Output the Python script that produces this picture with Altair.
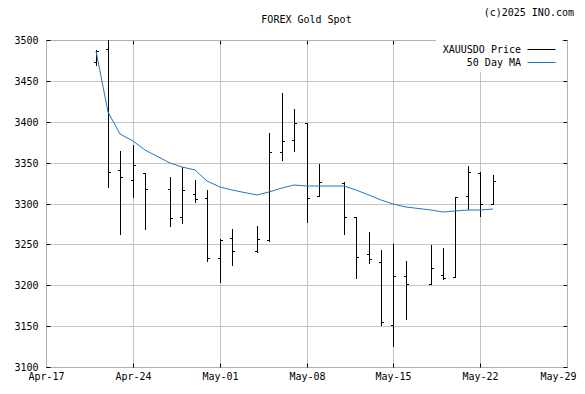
import altair as alt
import pandas as pd

# ---------------- data ----------------
dates = [
    "2025-04-21", "2025-04-22", "2025-04-23", "2025-04-24", "2025-04-25",
    "2025-04-27", "2025-04-28", "2025-04-29", "2025-04-30", "2025-05-01", "2025-05-02",
    "2025-05-04", "2025-05-05", "2025-05-06", "2025-05-07", "2025-05-08", "2025-05-09",
    "2025-05-11", "2025-05-12", "2025-05-13", "2025-05-14", "2025-05-15", "2025-05-16",
    "2025-05-18", "2025-05-19", "2025-05-20", "2025-05-21", "2025-05-22", "2025-05-23",
]
opens = [3473, 3489, 3341, 3329, 3337,
         3318, 3283, 3312, 3307, 3233, 3258,
         3242, 3255, 3363, 3378, 3398, 3309,
         3325, 3283, 3238, 3228, 3151, 3211,
         3201, 3212, 3210, 3309, 3337, 3300]
highs = [3488, 3500, 3364, 3371, 3337,
         3333, 3345, 3329, 3317, 3256, 3269,
         3272, 3386, 3435, 3415, 3399, 3348,
         3326, 3283, 3265, 3243, 3251, 3230,
         3249, 3246, 3308, 3346, 3339, 3335]
lows = [3468, 3319, 3261, 3307, 3268,
        3271, 3275, 3301, 3229, 3203, 3224,
        3239, 3253, 3352, 3363, 3276, 3308,
        3262, 3208, 3226, 3150, 3124, 3157,
        3201, 3207, 3209, 3292, 3284, 3300]
closes = [3487, 3338, 3332, 3347, 3318,
          3282, 3316, 3306, 3233, 3255, 3242,
          3256, 3363, 3377, 3398, 3307, 3326,
          3283, 3235, 3232, 3155, 3211, 3201,
          3221, 3209, 3308, 3339, 3300, 3327]
ma_values = [3487, 3412, 3385, 3376, 3365,
             3350, 3345, 3341, 3328, 3320, 3316,
             3310, 3314, 3319, 3323, 3322, 3322,
             3321, 3316, 3311, 3304, 3300, 3296,
             3292, 3289, 3291, 3292, 3292, 3293]

x_tick_dates = ["2025-04-17", "2025-04-24", "2025-05-01", "2025-05-08",
                "2025-05-15", "2025-05-22", "2025-05-29"]
y_ticks = [3100, 3150, 3200, 3250, 3300, 3350, 3400, 3450, 3500]
series_names = ["XAUUSDO Price", "50 Day MA"]
title_text = "FOREX Gold Spot"
credit_text = "(c)2025 INO.com"

FONT = "DejaVu Sans Mono"
GRID = "#c4c4c4"
BORDER = "#b0b0b0"
BLUE = "#1f78c1"
W, H = 521, 327


def dt(s):
    y, m, d = map(int, s.split("-"))
    return alt.DateTime(year=y, month=m, date=d, utc=True)


x_vals = [dt(s) for s in x_tick_dates]

price_df = pd.DataFrame({"date": dates, "open": opens, "high": highs, "low": lows,
                         "close": closes, "series": series_names[0]})
ma_df = pd.DataFrame({"date": dates, "ma": ma_values, "series": series_names[1]})
text_df = pd.DataFrame({"title": [title_text], "credit": [credit_text]})

xscale = alt.Scale(type="utc", domain=[x_vals[0], x_vals[-1]], nice=False, round=True)
yscale = alt.Scale(domain=[y_ticks[0], y_ticks[-1]], nice=False, zero=False, round=True)

legend = alt.Legend(
    title=None, orient="none", legendX=390, legendY=0, direction="vertical",
    symbolType="M-3,0H3", symbolSize=87, symbolStrokeWidth=1, symbolOffset=96,
    labelAlign="right", labelOffset={"expr": "-26"}, labelFont=FONT, labelFontSize=10,
    labelColor="black", fillColor="white", padding=4, rowPadding=2,
)
color = alt.Color("series:N", scale=alt.Scale(domain=series_names, range=["#000000", BLUE]),
                  legend=legend)

# the last date label is kept inside the canvas edge
last_label = "datum.index >= 0.99"
axis_main_x = alt.Axis(orient="bottom", values=x_vals,
                       labelExpr="utcFormat(datum.value, '%b-%d')",
                       labelAlign={"condition": {"test": last_label, "value": "right"},
                                   "value": "center"},
                       labelOffset={"condition": {"test": last_label, "value": 9}, "value": 0},
                       grid=True, gridColor=GRID, gridWidth=1, ticks=False, domain=True,
                       domainColor=BORDER, labelFont=FONT, labelFontSize=10, labelColor="black",
                       labelPadding=4, labelFlush=False, labelOverlap=False, title=None)
axis_main_y = alt.Axis(orient="left", values=y_ticks, format="d", grid=True, gridColor=GRID,
                       gridWidth=1, ticks=False, domain=True, domainColor=BORDER,
                       labelFont=FONT, labelFontSize=10, labelColor="black", labelPadding=8,
                       labelOverlap=False, title=None)


def tick_axis(orient, values):
    return alt.Axis(orient=orient, values=values, offset=-4, ticks=True, tickSize=4,
                    tickColor="black", tickWidth=1, labels=False, grid=False, domain=False,
                    title=None)


def edge_axis(orient, values):
    return alt.Axis(orient=orient, values=values, ticks=False, labels=False, grid=False,
                    domain=True, domainColor=BORDER, title=None)


rules = alt.Chart(price_df).mark_rule(strokeWidth=1, xOffset=0.5).encode(
    x=alt.X("date:T", scale=xscale, axis=axis_main_x),
    y=alt.Y("low:Q", scale=yscale, axis=axis_main_y),
    y2="high:Q",
    color=color,
)

open_ticks = alt.Chart(price_df).mark_tick(
    orient="horizontal", size=3, thickness=1, xOffset=-0.5, yOffset=0.5, opacity=1
).encode(
    x=alt.X("date:T", scale=xscale, axis=tick_axis("bottom", x_vals)),
    y=alt.Y("open:Q", scale=yscale, axis=tick_axis("left", y_ticks)),
    color=alt.value("black"),
)

close_ticks = alt.Chart(price_df).mark_tick(
    orient="horizontal", size=3, thickness=1, xOffset=1.5, yOffset=0.5, opacity=1
).encode(
    x=alt.X("date:T", scale=xscale, axis=tick_axis("top", x_vals)),
    y=alt.Y("close:Q", scale=yscale, axis=tick_axis("right", y_ticks)),
    color=alt.value("black"),
)

ma_line = alt.Chart(ma_df).mark_line(strokeWidth=1).encode(
    x=alt.X("date:T", scale=xscale, axis=edge_axis("top", x_vals)),
    y=alt.Y("ma:Q", scale=yscale, axis=edge_axis("right", y_ticks)),
    color=color,
)

title_mark = alt.Chart(text_df).mark_text(
    align="center", baseline="middle", font=FONT, fontSize=10, color="black"
).encode(text="title:N", x=alt.value(W / 2), y=alt.value(-20))

credit_mark = alt.Chart(text_df).mark_text(
    align="right", baseline="top", font=FONT, fontSize=10, color="black"
).encode(text="credit:N", x=alt.value(W + 7), y=alt.value(-32))

chart = alt.layer(rules, open_ticks, close_ticks, ma_line, title_mark, credit_mark).resolve_axis(
    x="independent", y="independent"
).properties(
    width=W, height=H,
    padding={"left": 38, "top": 32, "right": 10, "bottom": 15},
    autosize=alt.AutoSizeParams(type="none"),
).configure_view(stroke=None)

chart.save("out.html", embed_options={"renderer": "svg", "actions": False})
